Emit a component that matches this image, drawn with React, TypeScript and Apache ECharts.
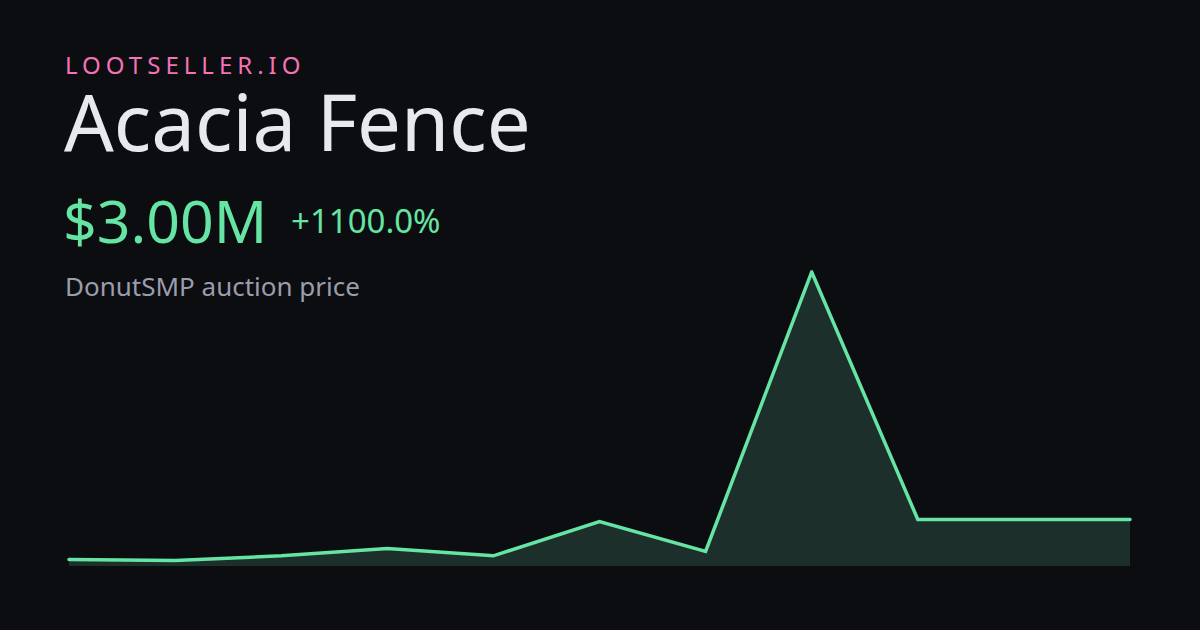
import { useEffect, useRef } from 'react'
import * as echarts from 'echarts'

// Auction price history (millions)
const points = ['1', '2', '3', '4', '5', '6', '7', '8', '9', '10', '11']
const prices = [0.25, 0.18, 0.5, 1.0, 0.5, 2.85, 0.8, 20, 3, 3, 3]

const brand = 'LOOTSELLER.IO'
const itemName = 'Acacia Fence'
const priceLabel = '$3.00M'
const changeLabel = '+1100.0%'
const subtitle = 'DonutSMP auction price'

const BG = '#0b0d11'
const GREEN = '#65e4a3'
const FONT = '"Noto Sans", "Open Sans", sans-serif'

const App: React.FC = () => {
  const chartRef = useRef<HTMLDivElement | null>(null)

  useEffect(() => {
    if (!chartRef.current) return
    document.body.style.margin = '0'
    const chart = echarts.init(chartRef.current, null, { renderer: 'svg' })

    const option: echarts.EChartsOption = {
      backgroundColor: BG,
      animation: false,
      grid: { left: 69, right: 70, top: 272, bottom: 64 },
      xAxis: {
        type: 'category',
        data: points,
        boundaryGap: false,
        show: false,
      },
      yAxis: {
        type: 'value',
        min: -0.2,
        max: 20,
        show: false,
      },
      series: [
        {
          type: 'line',
          data: prices,
          showSymbol: false,
          lineStyle: { color: GREEN, width: 3.5, cap: 'round', join: 'miter' },
          areaStyle: { color: '#1d2f2a', opacity: 1, origin: 'start' },
        },
      ],
      graphic: [
        {
          type: 'text',
          left: 65,
          top: 52,
          style: { text: brand, fill: '#f472b6', font: `400 24px ${FONT}` },
        },
        {
          type: 'text',
          left: 64,
          top: 82,
          style: { text: itemName, fill: '#e8e9ee', font: `400 78px ${FONT}` },
        },
        {
          type: 'text',
          left: 63,
          top: 190,
          style: { text: priceLabel, fill: GREEN, font: `400 59px ${FONT}` },
        },
        {
          type: 'text',
          left: 291,
          top: 204,
          style: { text: changeLabel, fill: GREEN, font: `400 33px ${FONT}` },
        },
        {
          type: 'text',
          left: 65,
          top: 273,
          style: { text: subtitle, fill: '#9a9dab', font: `400 26px ${FONT}` },
        },
      ],
    }

    chart.setOption(option)

    // widen the brand line's letter spacing in the SVG output
    chartRef.current.querySelectorAll('text').forEach((t) => {
      if (t.textContent === brand) t.setAttribute('letter-spacing', '5')
    })

    return () => {
      chart.dispose()
    }
  }, [])

  return <div ref={chartRef} style={{ width: 1200, height: 630, background: BG }} />
}

export default App
